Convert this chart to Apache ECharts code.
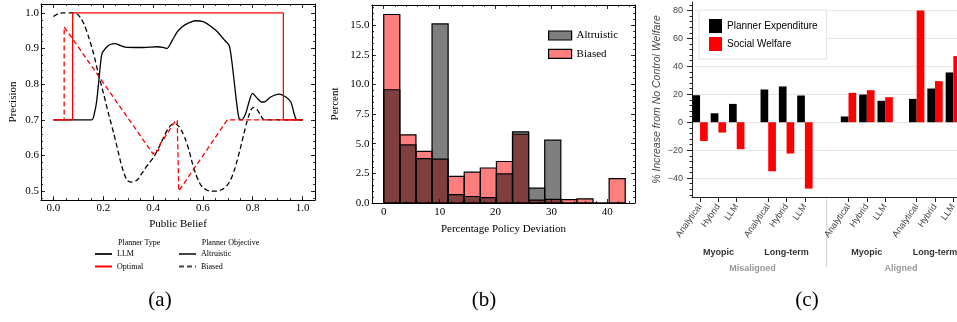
<!DOCTYPE html>
<html>
<head>
<meta charset="utf-8">
<script src="https://cdn.jsdelivr.net/npm/echarts@6/dist/echarts.min.js"></script>
<style>
  html, body { margin: 0; padding: 0; background: #fff; }
  #chart { width: 957px; height: 322px; }
</style>
</head>
<body>
<div id="chart"></div>
<script>
// ---- (a) precision vs public belief ----
const aXTicks = [0, 0.2, 0.4, 0.6, 0.8, 1.0];
const aYTicks = [0.5, 0.6, 0.7, 0.8, 0.9, 1.0];
const llmAltruistic = [
  [0, 0.7], [0.154, 0.7], [0.165, 0.72], [0.174, 0.755], [0.185, 0.83], [0.195, 0.886],
  [0.215, 0.905], [0.23, 0.912], [0.248, 0.914], [0.27, 0.908], [0.289, 0.904], [0.33, 0.903],
  [0.362, 0.903], [0.416, 0.905], [0.44, 0.903], [0.456, 0.9], [0.467, 0.91], [0.477, 0.923],
  [0.497, 0.947], [0.515, 0.96], [0.537, 0.97], [0.57, 0.978], [0.604, 0.975], [0.63, 0.963],
  [0.658, 0.947], [0.685, 0.925], [0.705, 0.909], [0.715, 0.87], [0.725, 0.811], [0.735, 0.75],
  [0.745, 0.704], [0.755, 0.7], [0.772, 0.718], [0.785, 0.75], [0.799, 0.774], [0.819, 0.76],
  [0.835, 0.75], [0.846, 0.75], [0.872, 0.764], [0.906, 0.772], [0.933, 0.764], [0.953, 0.75],
  [0.965, 0.72], [0.973, 0.703], [0.98, 0.7], [1.0, 0.7]
];
const llmBiased = [
  [0, 0.99], [0.02, 0.998], [0.04, 1.0], [0.075, 1.0], [0.095, 0.997], [0.11, 0.985],
  [0.125, 0.965], [0.14, 0.935], [0.161, 0.886], [0.18, 0.83], [0.201, 0.774], [0.22, 0.72],
  [0.242, 0.662], [0.26, 0.61], [0.275, 0.568], [0.295, 0.531], [0.315, 0.525], [0.336, 0.531],
  [0.362, 0.557], [0.38, 0.575], [0.403, 0.596], [0.425, 0.625], [0.443, 0.652], [0.46, 0.675],
  [0.475, 0.687], [0.49, 0.689], [0.505, 0.68], [0.517, 0.666], [0.53, 0.645], [0.544, 0.615],
  [0.557, 0.58], [0.57, 0.55], [0.585, 0.525], [0.597, 0.512], [0.615, 0.503], [0.631, 0.5],
  [0.658, 0.5], [0.672, 0.503], [0.685, 0.508], [0.698, 0.517], [0.711, 0.531], [0.725, 0.556],
  [0.738, 0.587], [0.752, 0.625], [0.765, 0.662], [0.775, 0.69], [0.785, 0.713], [0.795, 0.73],
  [0.805, 0.735], [0.819, 0.727], [0.83, 0.715], [0.839, 0.704], [0.846, 0.7], [1.0, 0.7]
];
const optimalAltruistic = [
  [0, 0.7], [0.077, 0.7], [0.077, 1.0], [0.923, 1.0], [0.923, 0.7], [1.0, 0.7]
];
const optimalBiased = [
  [0, 0.7], [0.043, 0.7], [0.043, 0.961], [0.4, 0.604], [0.41, 0.615], [0.42, 0.612],
  [0.43, 0.635], [0.44, 0.642], [0.45, 0.655], [0.46, 0.665], [0.465, 0.662], [0.47, 0.676],
  [0.478, 0.685], [0.483, 0.682], [0.488, 0.695], [0.492, 0.69], [0.497, 0.7], [0.5, 0.7],
  [0.503, 0.5], [0.698, 0.7], [1.0, 0.7]
];

// ---- (b) histogram of percentage policy deviation ----
const bXTicks = [0, 10, 20, 30, 40];
const bYTicks = [0, 2.5, 5, 7.5, 10, 12.5, 15];
const binEdges = [0, 2.88, 5.76, 8.64, 11.52, 14.4, 17.28, 20.16, 23.04, 25.92, 28.8, 31.68, 34.56, 37.44, 40.32, 43.2];
const altruisticPct = [9.55, 4.9, 3.75, 15.1, 0.7, 0.55, 0.45, 2.45, 6.0, 1.25, 5.3, 0, 0, 0, 0];
const biasedPct = [15.9, 5.75, 4.35, 3.7, 2.25, 2.6, 2.95, 3.5, 5.8, 0.25, 0.3, 0.28, 0.35, 0, 2.05];

// ---- (c) % increase from no control welfare ----
const cYTicks = [-40, -20, 0, 20, 40, 60, 80];
const cPositions = [0, 1, 2, 3.72, 4.72, 5.72, 8.1, 9.1, 10.1, 11.82, 12.82, 13.82];
const cTickLabels = ['Analytical', 'Hybrid', 'LLM', 'Analytical', 'Hybrid', 'LLM',
                     'Analytical', 'Hybrid', 'LLM', 'Analytical', 'Hybrid', 'LLM'];
const plannerExpenditure = [19.3, 6.4, 13.1, 23.4, 25.6, 19.1, 4.1, 19.8, 15.3, 16.7, 24.1, 35.6];
const socialWelfare = [-13.4, -7.4, -19.3, -35.1, -22.4, -47.5, 21.0, 22.9, 17.9, 80.0, 29.4, 47.3];
const horizonLabels = ['Myopic', 'Long-term', 'Myopic', 'Long-term'];
const alignmentLabels = ['Misaligned', 'Aligned'];

const SERIF = '"Liberation Serif", "DejaVu Serif", serif';
const SANS = '"Liberation Sans", Arial, sans-serif';
const C_BAR_W = 0.42;

function steps(from, to, step) {
  const out = [];
  for (let v = from; v <= to + 1e-9; v += step) out.push(+v.toFixed(6));
  return out;
}

// box-style axes (scienceplots look): ticks inside on all four sides + minor ticks
function boxAxes(dim, gridIndex, min, max, majors, minors, lab) {
  const pos = dim === 'x' ? ['bottom', 'top'] : ['left', 'right'];
  const base = (position, ticks, len, showLine) => ({
    type: 'value', gridIndex, min, max, position,
    axisLine: { show: showLine, onZero: false, lineStyle: { color: '#000', width: 1 } },
    axisTick: { show: true, inside: true, length: len, customValues: ticks, lineStyle: { color: '#000', width: 0.8 } },
    axisLabel: { show: false },
    splitLine: { show: false }
  });
  const main = base(pos[0], majors, 4, true);
  main.axisLabel = {
    show: true, customValues: majors, formatter: lab.fmt, margin: lab.margin,
    color: '#000', fontFamily: SERIF, fontSize: 11
  };
  main.name = lab.name;
  main.nameLocation = 'middle';
  main.nameGap = lab.nameGap;
  main.nameTextStyle = { fontFamily: SERIF, fontSize: 11, color: '#000' };
  return [main, base(pos[0], minors, 2, false), base(pos[1], majors, 4, true), base(pos[1], minors, 2, false)];
}

function histRenderer(fill) {
  return function (params, api) {
    const p0 = api.coord([api.value(0), api.value(2)]);
    const p1 = api.coord([api.value(1), 0]);
    return {
      type: 'rect',
      shape: { x: p0[0], y: p0[1], width: p1[0] - p0[0], height: p1[1] - p0[1] },
      style: { fill: fill, stroke: '#000', lineWidth: 1.2 }
    };
  };
}

function cBarRenderer(side, fill) {
  return function (params, api) {
    const x = api.value(0), v = api.value(1);
    const a = api.coord([side < 0 ? x - C_BAR_W : x, v]);
    const b = api.coord([side < 0 ? x : x + C_BAR_W, 0]);
    return {
      type: 'rect',
      shape: { x: a[0], y: Math.min(a[1], b[1]), width: b[0] - a[0], height: Math.abs(b[1] - a[1]) },
      style: { fill: fill }
    };
  };
}

const fmt1 = v => v.toFixed(1);

const xAxes = [].concat(
  boxAxes('x', 0, -0.05, 1.05, aXTicks, steps(-0.05, 1.05, 0.05),
    { fmt: fmt1, margin: 3, name: 'Public Belief', nameGap: 19 }),
  boxAxes('x', 1, -2.1, 44.95, bXTicks, steps(-2, 44, 2),
    { fmt: v => String(v), margin: 4, name: 'Percentage Policy Deviation', nameGap: 21 }),
  [{
    type: 'value', gridIndex: 2, min: -0.44, max: 14.02, position: 'bottom',
    axisLine: { show: true, onZero: false, lineStyle: { color: '#222', width: 1 } },
    axisTick: { show: true, length: 5, customValues: cPositions, lineStyle: { color: '#222', width: 1 } },
    axisLabel: {
      show: true, customValues: cPositions, rotate: 55, margin: 8,
      fontFamily: SANS, fontSize: 9, color: '#444',
      formatter: v => {
        const i = cPositions.findIndex(p => Math.abs(p - v) < 1e-6);
        return i >= 0 ? cTickLabels[i] : '';
      }
    },
    splitLine: { show: false }
  }]
);

const yAxes = [].concat(
  boxAxes('y', 0, 0.475, 1.025, aYTicks, steps(0.48, 1.02, 0.02),
    { fmt: fmt1, margin: 2, name: 'Precision', nameGap: 22 }),
  boxAxes('y', 1, 0, 16.7, bYTicks, steps(0, 16.5, 0.5),
    { fmt: fmt1, margin: 2.5, name: 'Percent', nameGap: 31 }),
  [{
    type: 'value', gridIndex: 2, min: -53.5, max: 86, position: 'left',
    name: '% Increase from No Control Welfare', nameLocation: 'middle', nameGap: 29,
    nameTextStyle: { fontFamily: SANS, fontSize: 10.5, fontStyle: 'italic', color: '#444' },
    axisLine: { show: true, onZero: false, lineStyle: { color: '#222', width: 1 } },
    axisTick: { show: true, length: 5, customValues: cYTicks, lineStyle: { color: '#222', width: 1 } },
    axisLabel: {
      show: true, customValues: cYTicks, margin: 9, fontFamily: SANS, fontSize: 9, color: '#444',
      formatter: v => (v < 0 ? '\u2212' + Math.abs(v) : String(v))
    },
    splitLine: { show: true, lineStyle: { color: '#e6e6e6', width: 1 } }
  }, {
    // minor ticks only; keep it on the left spine, not at x = 0
    type: 'value', gridIndex: 2, min: -53.5, max: 86, position: 'left',
    axisLine: { show: false, onZero: false },
    axisTick: { show: true, length: 2.5, customValues: steps(-52, 84, 4), lineStyle: { color: '#222', width: 1 } },
    axisLabel: { show: false },
    splitLine: { show: false }
  }]
);

function line(name, data, color, dashed, smooth) {
  return {
    name, type: 'line', xAxisIndex: 0, yAxisIndex: 0, data, symbol: 'none', smooth: smooth ? 0.25 : false,
    lineStyle: { color, width: 1.3, type: dashed ? [5, 3] : 'solid' }, itemStyle: { color }
  };
}

const aLegend = {
  orient: 'vertical', top: 250, padding: 0, itemWidth: 17, itemHeight: 8, itemGap: 4.5,
  itemStyle: { opacity: 0 },
  formatter: n => n.split(':')[1], textStyle: { fontFamily: SERIF, fontSize: 8, color: '#000' }
};

const option = {
  animation: false,
  backgroundColor: '#fff',
  grid: [
    { left: 41, top: 4, width: 274, height: 196, outerBoundsMode: 'none' },
    { left: 372, top: 5, width: 263, height: 198, outerBoundsMode: 'none' },
    { left: 692, top: 2, width: 265, height: 195, outerBoundsMode: 'none' }
  ],
  xAxis: xAxes,
  yAxis: yAxes,
  legend: [
    Object.assign({ data: ['type:LLM', 'type:Optimal'], left: 94 }, aLegend),
    Object.assign({ data: ['obj:Altruistic', 'obj:Biased'], left: 178 }, aLegend),
    {
      data: ['Altruistic', 'Biased'], orient: 'vertical', left: 548, top: 30, padding: 0,
      itemWidth: 23, itemHeight: 9, itemGap: 7.3, icon: 'rect',
      itemStyle: { borderColor: '#000', borderWidth: 1.2 },
      textStyle: { fontFamily: SERIF, fontSize: 11, color: '#000' }
    },
    {
      data: ['Planner Expenditure', 'Social Welfare'], orient: 'vertical', left: 699, top: 10,
      padding: [9, 9, 8, 10], itemWidth: 13, itemHeight: 14, itemGap: 4, icon: 'rect',
      backgroundColor: '#fff', borderColor: '#e2e2e2', borderWidth: 1,
      textStyle: { fontFamily: SANS, fontSize: 10, color: '#000' }
    }
  ],
  series: [
    line('LLM Altruistic', llmAltruistic, '#000', false, true),
    line('LLM Biased', llmBiased, '#000', true, true),
    line('Optimal Altruistic', optimalAltruistic, '#ff0000', false, false),
    line('Optimal Biased', optimalBiased, '#ff0000', true, false),
    line('type:LLM', [], '#222', false, false),
    line('type:Optimal', [], '#ff0000', false, false),
    line('obj:Altruistic', [], '#444', false, false),
    line('obj:Biased', [], '#444', true, false),
    {
      name: 'Biased', type: 'custom', xAxisIndex: 4, yAxisIndex: 4,
      data: biasedPct.map((v, i) => [binEdges[i], binEdges[i + 1], v]),
      renderItem: histRenderer('rgba(255,0,0,0.5)'),
      itemStyle: { color: 'rgba(255,0,0,0.5)', borderColor: '#000' }
    },
    {
      name: 'Altruistic', type: 'custom', xAxisIndex: 4, yAxisIndex: 4,
      data: altruisticPct.map((v, i) => [binEdges[i], binEdges[i + 1], v]),
      renderItem: histRenderer('rgba(0,0,0,0.5)'),
      itemStyle: { color: 'rgba(0,0,0,0.5)', borderColor: '#000' }
    },
    {
      name: 'Planner Expenditure', type: 'custom', xAxisIndex: 8, yAxisIndex: 8,
      data: cPositions.map((p, i) => [p, plannerExpenditure[i]]),
      renderItem: cBarRenderer(-1, '#000'), itemStyle: { color: '#000' }
    },
    {
      name: 'Social Welfare', type: 'custom', xAxisIndex: 8, yAxisIndex: 8,
      data: cPositions.map((p, i) => [p, socialWelfare[i]]),
      renderItem: cBarRenderer(1, '#ff0000'), itemStyle: { color: '#ff0000' }
    }
  ]
};

const chart = echarts.init(document.getElementById('chart'), null, { renderer: 'canvas' });
chart.setOption(option);

// labels placed through the (c) x axis scale
const px = v => chart.convertToPixel({ xAxisIndex: 8 }, v);
const groupCenters = [0, 1, 2, 3].map(g => (cPositions[g * 3] + cPositions[g * 3 + 2]) / 2);
const alignCenters = [0, 1].map(k => (groupCenters[k * 2] + groupCenters[k * 2 + 1]) / 2);
const sepX = px((cPositions[5] + cPositions[6]) / 2);

const txt = (text, x, y, font, fill, align) => ({
  type: 'text', x, y, silent: true,
  style: { text, font, fill, textAlign: align || 'center', textVerticalAlign: 'middle' }
});

chart.setOption({
  graphic: [
    txt('Planner Type', 118, 243, '8px ' + SERIF, '#000', 'left'),
    txt('Planner Objective', 201.7, 243, '8px ' + SERIF, '#000', 'left'),
    txt('(a)', 160, 300, '21px ' + SERIF, '#000'),
    txt('(b)', 484, 300, '21px ' + SERIF, '#000'),
    txt('(c)', 807, 300, '21px ' + SERIF, '#000')
  ].concat(
    groupCenters.map((c, i) => txt(horizonLabels[i], px(c), 252.3, 'bold 9px ' + SANS, '#333')),
    alignCenters.map((c, i) => txt(alignmentLabels[i], px(c), 268.3, 'bold 9px ' + SANS, '#999')),
    [{ type: 'line', silent: true, shape: { x1: sepX, y1: 199, x2: sepX, y2: 267 }, style: { stroke: '#cfcfcf', lineWidth: 1 } }]
  )
});
</script>
</body>
</html>
